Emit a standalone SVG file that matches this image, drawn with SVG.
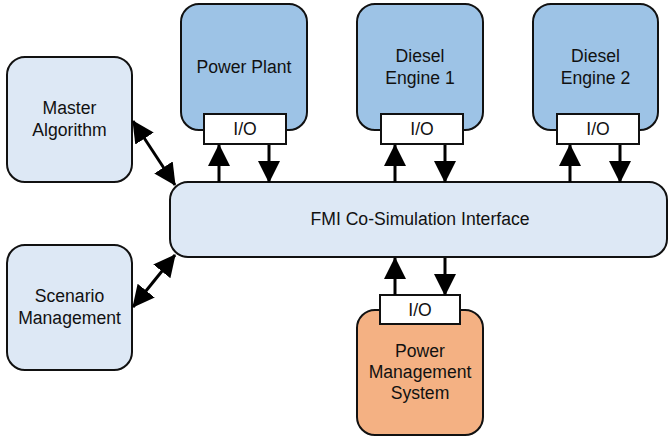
<svg xmlns="http://www.w3.org/2000/svg" width="669" height="438" viewBox="0 0 669 438">
  <style>
    .box { stroke: #111; stroke-width: 2; }
    .light { fill: #dde8f5; }
    .fmu { fill: #9dc3e6; }
    .ctrl { fill: #f4b183; }
    .io { fill: #fff; stroke: #111; stroke-width: 2; }
    .lbl { font-family: "Liberation Sans", Arial, sans-serif; font-size: 17.6px; fill: #111; text-anchor: middle; }
    .wire { stroke: #000; stroke-width: 3; fill: none; }
  </style>
  <defs>
    <marker id="head" viewBox="0 0 22 22" refX="21" refY="11" markerWidth="22" markerHeight="22" markerUnits="userSpaceOnUse" orient="auto">
      <path d="M0,0 L22,11 L0,22 Z" fill="#000"/>
    </marker>
    <marker id="tail" viewBox="0 0 22 22" refX="1" refY="11" markerWidth="22" markerHeight="22" markerUnits="userSpaceOnUse" orient="auto">
      <path d="M22,0 L0,11 L22,22 Z" fill="#000"/>
    </marker>
  </defs>

  <g id="master-algorithm">
    <rect class="box light" x="7" y="57" width="125" height="125" rx="18"/>
    <text class="lbl" x="69.5" y="114">Master</text>
    <text class="lbl" x="69.5" y="136">Algorithm</text>
  </g>

  <g id="scenario-management">
    <rect class="box light" x="7" y="245" width="125" height="125" rx="18"/>
    <text class="lbl" x="69.5" y="302">Scenario</text>
    <text class="lbl" x="69.5" y="324">Management</text>
  </g>

  <g id="power-plant">
    <rect class="box fmu" x="181" y="4" width="126" height="126" rx="18"/>
    <text class="lbl" x="244" y="73">Power Plant</text>
    <rect class="io" x="204" y="114" width="82" height="30"/>
    <text class="lbl" x="245" y="135">I/O</text>
  </g>

  <g id="diesel-engine-1">
    <rect class="box fmu" x="357" y="4" width="126" height="126" rx="18"/>
    <text class="lbl" x="420" y="62">Diesel</text>
    <text class="lbl" x="420" y="84">Engine 1</text>
    <rect class="io" x="381" y="114" width="82" height="30"/>
    <text class="lbl" x="422" y="135">I/O</text>
  </g>

  <g id="diesel-engine-2">
    <rect class="box fmu" x="533" y="4" width="125" height="126" rx="18"/>
    <text class="lbl" x="595.5" y="62">Diesel</text>
    <text class="lbl" x="595.5" y="84">Engine 2</text>
    <rect class="io" x="557" y="114" width="82" height="30"/>
    <text class="lbl" x="598" y="135">I/O</text>
  </g>

  <g id="fmi-interface">
    <rect class="box light" x="170" y="182" width="497" height="75" rx="18"/>
    <text class="lbl" x="420" y="225">FMI Co-Simulation Interface</text>
  </g>

  <g id="power-management-system">
    <rect class="box ctrl" x="357" y="310" width="126" height="125" rx="18"/>
    <text class="lbl" x="420" y="357">Power</text>
    <text class="lbl" x="420" y="378">Management</text>
    <text class="lbl" x="420" y="399">System</text>
    <rect class="io" x="380" y="295" width="80" height="29"/>
    <text class="lbl" x="420" y="316">I/O</text>
  </g>

  <g id="connectors">
    <!-- master algorithm and scenario management talk to the interface both ways -->
    <line class="wire" x1="133" y1="121" x2="175" y2="185" marker-start="url(#tail)" marker-end="url(#head)"/>
    <line class="wire" x1="133" y1="307" x2="175" y2="255" marker-start="url(#tail)" marker-end="url(#head)"/>
    <!-- outputs go up into each unit's I/O, inputs come down to the interface -->
    <line class="wire" x1="219" y1="182" x2="219" y2="145" marker-end="url(#head)"/>
    <line class="wire" x1="269" y1="145" x2="269" y2="182" marker-end="url(#head)"/>
    <line class="wire" x1="395" y1="182" x2="395" y2="145" marker-end="url(#head)"/>
    <line class="wire" x1="445" y1="145" x2="445" y2="182" marker-end="url(#head)"/>
    <line class="wire" x1="570" y1="182" x2="570" y2="145" marker-end="url(#head)"/>
    <line class="wire" x1="620" y1="145" x2="620" y2="182" marker-end="url(#head)"/>
    <line class="wire" x1="395" y1="295" x2="395" y2="258" marker-end="url(#head)"/>
    <line class="wire" x1="445" y1="258" x2="445" y2="295" marker-end="url(#head)"/>
  </g>
</svg>
